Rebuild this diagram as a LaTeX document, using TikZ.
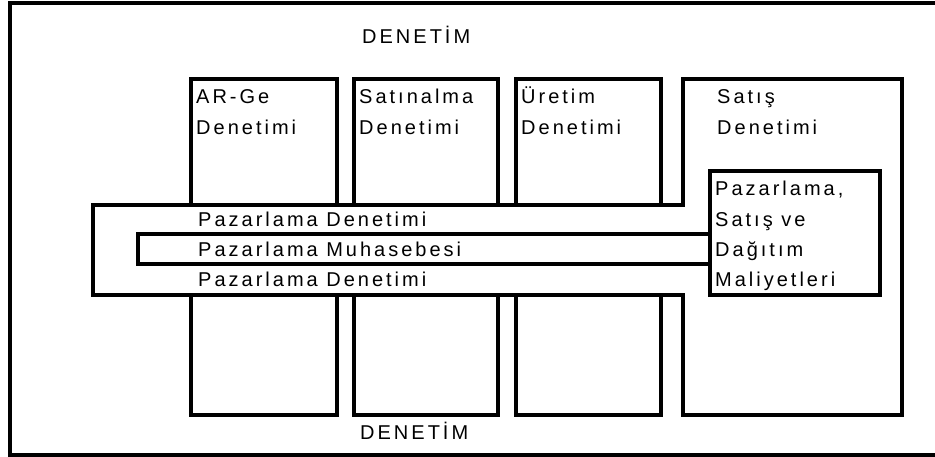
\documentclass[tikz,border=0pt]{standalone}
\usepackage{fontspec}
\setmainfont{Liberation Sans}[LetterSpace=15]
\begin{document}
\begin{tikzpicture}[x=1pt,y=-1pt,
  box/.style={draw=black,line width=3.4pt,line join=miter},
  lbl/.style={anchor=base west,inner sep=0pt,font=\fontsize{20}{24}\selectfont}]
\useasboundingbox (0,0) rectangle (935,457);
\clip (0,0) rectangle (935,457);
\fill[white] (0,0) rectangle (935,457);
% outer frame
\draw[box] (10,3) rectangle (945,455);
% columns
\draw[box] (191,79) rectangle (337,205);
\draw[box] (191,295) rectangle (337,415);
\draw[box] (354,79) rectangle (498,205);
\draw[box] (354,295) rectangle (498,415);
\draw[box] (516,79) rectangle (661,205);
\draw[box] (516,295) rectangle (661,415);
% band + sales column
\draw[box] (93,205) -- (683,205) -- (683,79) -- (902,79) -- (902,415) -- (683,415) -- (683,295) -- (93,295) -- cycle;
\draw[box] (710,171) rectangle (880,295);
\draw[box] (138,234) rectangle (710,264);
% texts
\node[lbl] (d1) at (362,43.3) {DENETİM};
\node[lbl] (d2) at (360,439.3) {DENETİM};
\node[lbl] (a1) at (196,104) {AR-Ge};
\node[lbl] (a2) at (196,135) {Denetimi};
\node[lbl] (s1) at (359,104) {Satınalma};
\node[lbl] (s2) at (359,135) {Denetimi};
\node[lbl] (u1) at (521,104) {Üretim};
\node[lbl] (u2) at (521,135) {Denetimi};
\node[lbl] (t1) at (717,104) {Satış};
\node[lbl] (t2) at (717,135) {Denetimi};
\node[lbl] (p1) at (715,196) {Pazarlama,};
\node[lbl] (p2) at (715,226.5) {Satış ve};
\node[lbl] (p3) at (715,257) {Dağıtım};
\node[lbl] (p4) at (715,287) {Maliyetleri};
\node[lbl] (b1) at (198,226.7) {Pazarlama Denetimi};
\node[lbl] (b2) at (198,256.7) {Pazarlama Muhasebesi};
\node[lbl] (b3) at (198,286.7) {Pazarlama Denetimi};
\end{tikzpicture}
\end{document}
